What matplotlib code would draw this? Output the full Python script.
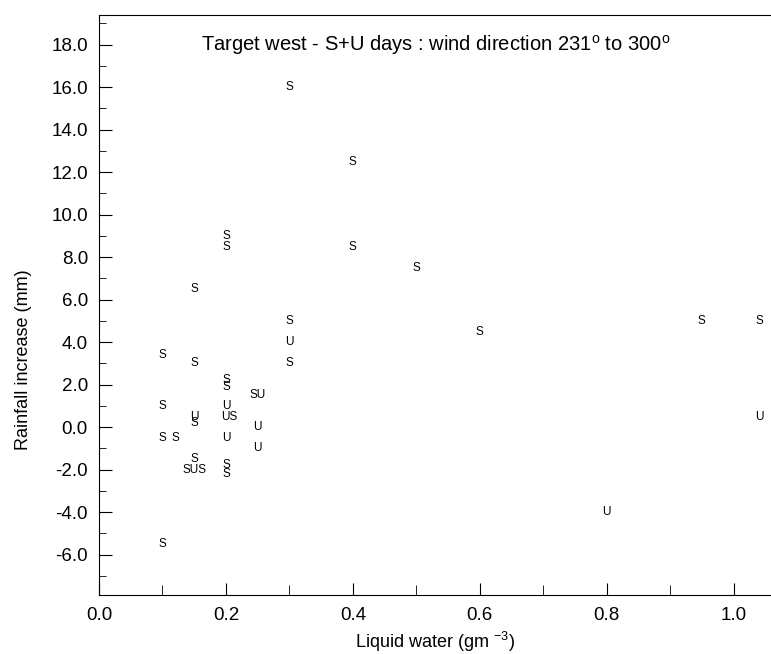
import matplotlib
matplotlib.use("Agg")
import matplotlib.pyplot as plt
from matplotlib.ticker import MultipleLocator, FormatStrFormatter

plt.rcParams['font.family'] = ['Liberation Sans', 'DejaVu Sans']
plt.rcParams['mathtext.fontset'] = 'custom'
plt.rcParams['mathtext.rm'] = 'Liberation Sans'

#%% data: liquid water, rainfall increase, day type

liquid_water = [0.30, 0.40, 0.20, 0.20, 0.40, 0.50, 0.15, 0.30, 0.95, 1.04,
                0.60, 0.30, 0.10, 0.15, 0.30, 0.20, 0.20, 0.25, 0.10, 0.20,
                0.15, 0.205, 1.04, 0.15, 0.25, 0.10, 0.12, 0.20, 0.25, 0.15,
                0.20, 0.15, 0.20, 0.80, 0.10]
rain_increase = [16.0, 12.5, 9.0, 8.5, 8.5, 7.5, 6.5, 5.0, 5.0, 5.0,
                 4.5, 4.0, 3.4, 3.0, 3.0, 2.2, 1.9, 1.5, 1.0, 1.0,
                 0.5, 0.5, 0.5, 0.2, 0.0, -0.5, -0.5, -0.5, -1.0, -1.5,
                 -1.8, -2.0, -2.2, -4.0, -5.5]
day_type = ['S', 'S', 'S', 'S', 'S', 'S', 'S', 'S', 'S', 'S',
            'S', 'U', 'S', 'S', 'S', 'S', 'S', 'SU', 'S', 'U',
            'U', 'US', 'U', 'S', 'U', 'S', 'S', 'U', 'U', 'S',
            'S', 'SUS', 'S', 'U', 'S']

#%% plot

fig = plt.figure(figsize=(7.71, 6.54), dpi=100)
ax = fig.add_axes([99 / 771, 1 - 595 / 654, 1 - 99 / 771, (595 - 15) / 654])

for x, y, t in zip(liquid_water, rain_increase, day_type):
    ax.text(x, y, t, fontsize=8.5, ha='center', va='center')

ax.set_xlim(0, 1.059)
ax.set_ylim(-7.9, 19.4)
ax.spines['right'].set_visible(False)

ax.xaxis.set_major_locator(MultipleLocator(0.2))
ax.xaxis.set_minor_locator(MultipleLocator(0.1))
ax.yaxis.set_major_locator(MultipleLocator(2.0))
ax.yaxis.set_minor_locator(MultipleLocator(1.0))
ax.xaxis.set_major_formatter(FormatStrFormatter('%.1f'))
ax.yaxis.set_major_formatter(FormatStrFormatter('%.1f'))
ax.tick_params(which='both', direction='in', labelsize=13.5, top=False, right=False)
ax.tick_params(axis='x', which='major', length=9, pad=9)
ax.tick_params(axis='x', which='minor', length=7)
ax.tick_params(axis='y', which='major', length=9, pad=8)
ax.tick_params(axis='y', which='minor', length=5)

ax.set_xlabel(r'Liquid water (gm $^{\mathrm{-3}}$)', fontsize=13, labelpad=4)
ax.set_ylabel('Rainfall increase (mm)', fontsize=13, labelpad=8)
ax.yaxis.set_label_coords(-0.1, 0.405)
ax.text(0.53, 18.0, r'Target west - S+U days : wind direction 231$^{\mathrm{o}}$ to 300$^{\mathrm{o}}$',
        fontsize=14.5, ha='center', va='center')

fig.savefig("out.png", dpi=100)
